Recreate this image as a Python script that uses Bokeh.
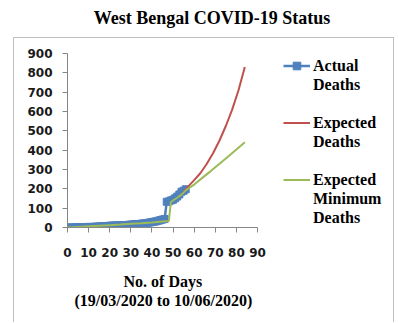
from bokeh.plotting import figure
from bokeh.models import Div, Legend, LegendItem, Title
from bokeh.layouts import column
from bokeh.embed import file_html
from bokeh.resources import INLINE

# ---------------- data ----------------
title_text = "West Bengal COVID-19 Status"
x_label_lines = ["No. of Days", "(19/03/2020 to 10/06/2020)"]
x_ticks = [0, 10, 20, 30, 40, 50, 60, 70, 80, 90]
y_ticks = [0, 100, 200, 300, 400, 500, 600, 700, 800, 900]

actual_days = list(range(0, 57))
actual_deaths = [0, 0, 0, 0, 1, 1, 1, 1, 1, 2,
                 3, 3, 3, 4, 5, 5, 6, 7, 7, 8,
                 9, 10, 10, 10, 11, 11, 12, 12, 13, 14,
                 15, 16, 17, 18, 18, 20, 21, 22, 24, 26,
                 28, 30, 32, 35, 38, 41, 44, 133, 135, 140,
                 144, 151, 160, 171, 185, 190, 198]

expected_days = [54, 57, 60, 63, 66, 69, 72, 75, 78, 81, 84]
expected_deaths = [170, 210, 245, 282, 330, 385, 450, 525, 610, 710, 830]

minimum_days = [0, 5, 10, 15, 20, 25, 30, 35, 40, 45, 48, 49, 50, 52, 54, 56, 58, 60, 64, 68, 72, 76, 80, 84]
minimum_deaths = [0, 3, 6, 9, 12, 15, 19, 22, 26, 31, 34, 132, 140, 154, 170, 192, 208, 222, 258, 293, 330, 366, 403, 441]

series_names = ["Actual\nDeaths", "Expected\nDeaths", "Expected\nMinimum\nDeaths"]

BLUE = "#4F81BD"
RED = "#C0504D"
GREEN = "#9BBB59"
AXIS = "#868686"

# ---------------- title ----------------
title = Div(
    text=('<div style="width:370px;font-family:\'Liberation Serif\';font-weight:bold;font-size:18px;'
          'line-height:22px;text-align:center;padding-top:7px;margin:0;color:#000;">'
          + title_text + '</div>'),
    width=370, height=37, margin=(0, 0, 0, 27),
)

# ---------------- figure ----------------
# frame spans the plot and the legend area; the x axis itself is bounded to 0..90
p = figure(
    width=381, height=285,
    x_range=(0, 153), y_range=(0, 900),
    output_backend="svg", toolbar_location=None,
    min_border_left=53, min_border_right=5, min_border_top=15, min_border_bottom=96,
    margin=(0, 0, 0, 13),
)
p.styles = {"border-left": "1px solid #BFBFBF", "border-top": "1px solid #BFBFBF",
            "border-right": "1px solid #BFBFBF"}
p.outline_line_color = None
p.xgrid.grid_line_color = None
p.ygrid.grid_line_color = None
p.background_fill_color = "white"
p.border_fill_color = "white"

for ax in (p.xaxis[0], p.yaxis[0]):
    ax.axis_line_color = AXIS
    ax.major_tick_line_color = AXIS
    ax.minor_tick_line_color = None
    ax.major_tick_out = 5
    ax.major_tick_in = 0
    ax.major_label_text_font = "DejaVu Sans"
    ax.major_label_text_font_style = "bold"
    ax.major_label_text_font_size = "12px"
    ax.major_label_text_color = "#1a1a1a"

p.xaxis.bounds = (0, 90)
p.xaxis.ticker = x_ticks
p.yaxis.ticker = y_ticks
p.xaxis.major_label_standoff = 15
p.yaxis.major_label_standoff = 10
# blank spacer label to leave room between tick labels and the caption
p.xaxis.axis_label = " "
p.xaxis.axis_label_text_font_size = "1px"
p.xaxis.axis_label_standoff = 7

# x-axis caption, centred under the 0..90 axis (two lines)
for text, off in zip(x_label_lines, [56, 7]):
    p.add_layout(Title(text=text, align="left", offset=off, standoff=0,
                       text_font="Liberation Serif", text_font_style="bold",
                       text_font_size="16px", text_color="#000000"), "below")

r_blue_line = p.line(actual_days, actual_deaths, line_color=BLUE, line_width=2.5)
r_blue_pts = p.scatter(actual_days, actual_deaths, marker="square", size=7,
                       fill_color=BLUE, line_color=BLUE)
r_red = p.line(expected_days, expected_deaths, line_color=RED, line_width=2)
r_green = p.line(minimum_days, minimum_deaths, line_color=GREEN, line_width=2)
# invisible renderer used for the continuation rows of the wrapped legend labels
r_blank = p.line(actual_days, actual_deaths, line_alpha=0)

rows = []
for i, (name, rs) in enumerate(zip(series_names, [[r_blue_line, r_blue_pts], [r_red], [r_green]])):
    parts = name.split("\n")
    rows.append(LegendItem(label=parts[0], renderers=rs))
    for extra in parts[1:]:
        rows.append(LegendItem(label=extra, renderers=[r_blank]))
    if i < len(series_names) - 1:
        rows.append(LegendItem(label=" ", renderers=[r_blank]))

legend = Legend(
    items=rows, location=(216, 0),
    padding=0, margin=0, spacing=0,
    glyph_width=27, glyph_height=19, label_height=19, label_standoff=3,
    label_text_font="Liberation Serif", label_text_font_style="bold",
    label_text_font_size="16px", label_text_color="#000000",
    border_line_color=None, background_fill_alpha=0,
)
p.add_layout(legend, "center")

layout = column(title, p, spacing=0)
open("out.html", "w").write(file_html(layout, INLINE))
